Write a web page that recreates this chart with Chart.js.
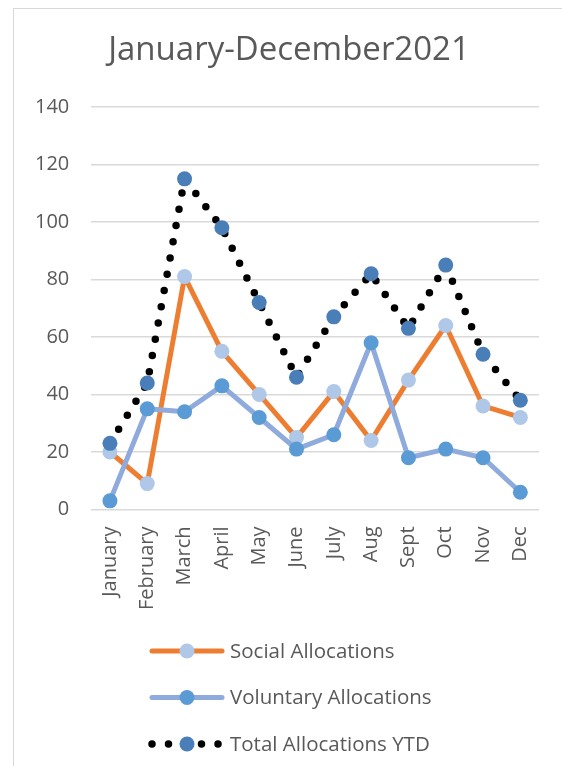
<!DOCTYPE html>
<html>
<head>
<meta charset="utf-8">
<script src="https://cdn.jsdelivr.net/npm/chart.js@4.4.1/dist/chart.umd.min.js"></script>
<style>
    html, body { margin: 0; padding: 0; background: #fff; overflow: hidden; }
    #frame {
        position: absolute; left: 13px; top: 8px; width: 700px; height: 900px;
        border-left: 1px solid #d9d9d9; border-top: 1px solid #d9d9d9;
    }
    #wrap { position: absolute; left: 0; top: 0; width: 562px; height: 766px; }
</style>
</head>
<body>
<div id="frame"></div>
<div id="wrap"><canvas id="allocChart"></canvas></div>
<script>
// chart data
const months = ['January', 'February', 'March', 'April', 'May', 'June', 'July', 'Aug', 'Sept', 'Oct', 'Nov', 'Dec'];
const socialAllocations = [20, 9, 81, 55, 40, 25, 41, 24, 45, 64, 36, 32];
const voluntaryAllocations = [3, 35, 34, 43, 32, 21, 26, 58, 18, 21, 18, 6];
const totalAllocationsYTD = [23, 44, 115, 98, 72, 46, 67, 82, 63, 85, 54, 38];
const yMin = 0;
const yMax = 140;
const yStep = 20;

const chartTitle = 'January-December2021';
const textColor = '#595959';
const fontFamily = "'Open Sans', sans-serif";

// title centred on the whole frame (built-in title centres on the padded box)
const frameTitle = {
    id: 'frameTitle',
    afterDraw(chart, args, opts) {
        const ctx = chart.ctx;
        ctx.save();
        ctx.fillStyle = textColor;
        ctx.font = opts.fontSize + 'px ' + fontFamily;
        ctx.textAlign = 'center';
        ctx.textBaseline = 'middle';
        ctx.fillText(opts.text, opts.centerX, opts.centerY);
        ctx.restore();
    }
};

// legend drawn as rows under the axis (line sample + marker + label)
const rowLegend = {
    id: 'rowLegend',
    afterDraw(chart, args, opts) {
        const ctx = chart.ctx;
        chart.data.datasets.forEach((ds, i) => {
            const y = opts.top + i * opts.rowGap;
            const x0 = opts.left;
            const x1 = opts.left + opts.lineLength;

            ctx.save();
            ctx.strokeStyle = ds.borderColor;
            ctx.lineWidth = ds.borderWidth;
            ctx.lineCap = ds.borderCapStyle || 'butt';
            ctx.setLineDash(ds.borderDash || []);
            ctx.beginPath();
            ctx.moveTo(x0, y);
            ctx.lineTo(x1, y);
            ctx.stroke();
            ctx.setLineDash([]);

            ctx.fillStyle = ds.pointBackgroundColor;
            ctx.beginPath();
            ctx.arc((x0 + x1) / 2, y, ds.pointRadius, 0, Math.PI * 2);
            ctx.fill();

            ctx.fillStyle = textColor;
            ctx.font = opts.fontSize + 'px ' + fontFamily;
            ctx.textBaseline = 'middle';
            ctx.fillText(ds.label, x1 + 8, y + 1);
            ctx.restore();
        });
    }
};

const ctx = document.getElementById('allocChart');

new Chart(ctx, {
    type: 'line',
    data: {
        labels: months,
        datasets: [
            {
                label: 'Social Allocations',
                data: socialAllocations,
                borderColor: '#ED7D31',
                borderWidth: 5,
                borderCapStyle: 'round',
                borderJoinStyle: 'round',
                pointBackgroundColor: '#B0C8E8',
                pointBorderWidth: 0,
                pointRadius: 7.5,
                order: 3
            },
            {
                label: 'Voluntary Allocations',
                data: voluntaryAllocations,
                borderColor: '#8FAADC',
                borderWidth: 5,
                borderCapStyle: 'round',
                borderJoinStyle: 'round',
                pointBackgroundColor: '#5B9BD5',
                pointBorderWidth: 0,
                pointRadius: 7.5,
                order: 2
            },
            {
                label: 'Total Allocations YTD',
                data: totalAllocationsYTD,
                borderColor: '#000000',
                borderWidth: 7.5,
                borderDash: [0, 16.5],
                borderCapStyle: 'round',
                borderJoinStyle: 'round',
                pointBackgroundColor: '#4A7EB8',
                pointBorderWidth: 0,
                pointRadius: 7.5,
                order: 1
            }
        ]
    },
    options: {
        responsive: true,
        maintainAspectRatio: false,
        animation: false,
        clip: false,
        layout: {
            padding: { left: 13, right: 23, top: 107, bottom: 147 }
        },
        plugins: {
            legend: { display: false },
            tooltip: { enabled: false },
            title: { display: false },
            frameTitle: {
                text: chartTitle,
                fontSize: 33,
                centerX: 289,
                centerY: 51
            },
            rowLegend: {
                left: 152,
                lineLength: 70,
                top: 651,
                rowGap: 46.5,
                fontSize: 20.5
            }
        },
        scales: {
            x: {
                offset: true,
                grid: { display: false },
                border: { display: false },
                ticks: {
                    color: textColor,
                    font: { family: fontFamily, size: 20 },
                    minRotation: 90,
                    maxRotation: 90,
                    padding: 9,
                    autoSkip: false
                }
            },
            y: {
                min: yMin,
                max: yMax,
                border: { display: false },
                grid: {
                    color: '#d9d9d9',
                    lineWidth: 1.5,
                    drawTicks: false
                },
                ticks: {
                    stepSize: yStep,
                    color: textColor,
                    font: { family: fontFamily, size: 20 },
                    padding: 22
                }
            }
        }
    },
    plugins: [frameTitle, rowLegend]
});
</script>
</body>
</html>
